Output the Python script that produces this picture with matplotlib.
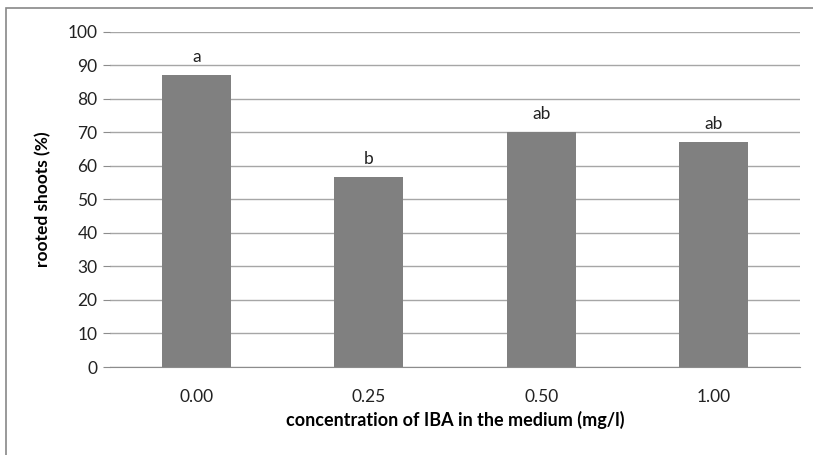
import matplotlib.pyplot as plt
from matplotlib.patches import Rectangle
import numpy as np

# rooting of shoots vs IBA concentration
conc = ['0.00', '0.25', '0.50', '1.00']
rooted = [87.0, 56.6, 70.2, 67.1]
letters = ['a', 'b', 'ab', 'ab']

plt.rcParams['font.family'] = ['Lato', 'DejaVu Sans']
fs = 12.5

fig = plt.figure(figsize=(8.13, 4.55), dpi=100)
ax = fig.add_axes([110/813, 1-367/455, 690/813, (367-31.7)/455])

x = np.arange(len(conc))
ax.bar(x, rooted, width=0.4, color='#808080', zorder=3)
for xi, v, t in zip(x, rooted, letters):
    ax.text(xi, v + 3.0, t, ha='center', va='bottom', fontsize=fs, color='#222222')

ax.set_xlim(-0.5, len(conc) - 0.5)
ax.set_ylim(0, 100)
ax.set_yticks(np.arange(0, 101, 10))
ax.set_xticks(x)
ax.set_xticklabels(conc)
ax.grid(True, axis='y', color='#a6a6a6', linewidth=1, zorder=0)
for s in ['top', 'right', 'left']:
    ax.spines[s].set_visible(False)
ax.spines['bottom'].set_color('#8c8c8c')
ax.tick_params(axis='y', length=5, color='#8c8c8c', labelsize=fs, pad=4, labelcolor='#222222')
ax.tick_params(axis='x', length=0, labelsize=fs, pad=16, labelcolor='#222222')
ax.set_ylabel('rooted shoots (%)', fontweight='bold', fontsize=fs, labelpad=12)
ax.set_xlabel('concentration of IBA in the medium (mg/l)', fontweight='bold', fontsize=13, labelpad=4)

# outer chart frame
fig.patches.append(Rectangle((6/813, -0.1), 1.2, 1 - 8/455 + 0.1, transform=fig.transFigure,
                             fill=False, edgecolor='#888888', linewidth=1.2))

plt.savefig('out.png', dpi=100)
